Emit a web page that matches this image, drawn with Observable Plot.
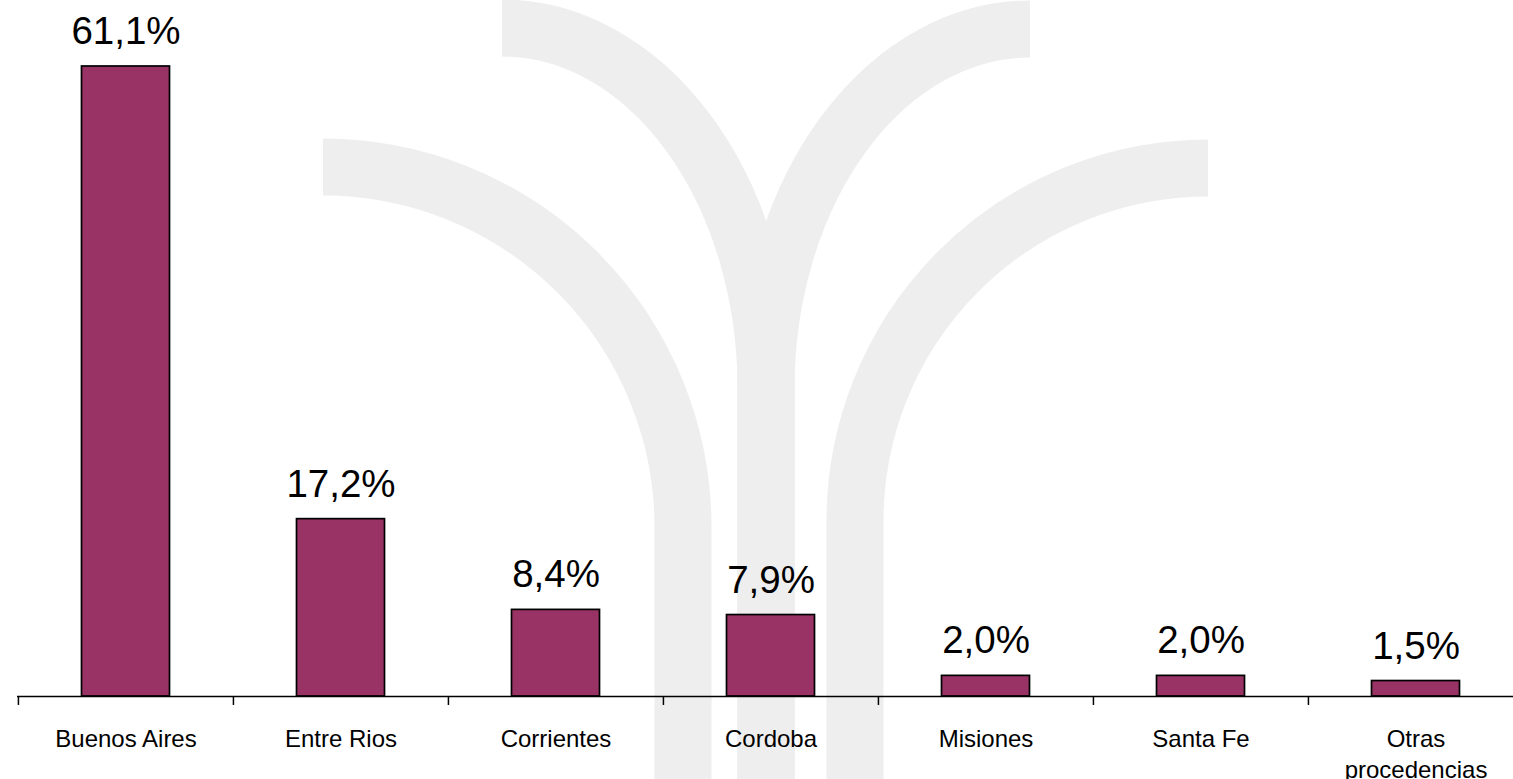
<!DOCTYPE html>
<html>
<head>
<meta charset="utf-8">
<script src="https://cdn.jsdelivr.net/npm/d3@7"></script>
<script src="https://cdn.jsdelivr.net/npm/@observablehq/plot@0.6"></script>
<style>
  html, body { margin: 0; padding: 0; background: #fff; overflow: hidden; }
  #wrap { position: relative; width: 1513px; height: 779px; overflow: hidden; }
  #bg { position: absolute; left: 0; top: 0; }
  #chart { position: absolute; left: 0; top: 0; }
</style>
</head>
<body>
<div id="wrap">
  <svg id="bg" width="1513" height="779"></svg>
  <div id="chart"></div>
</div>
<script>
// ---- data ----
const categories = ["Buenos Aires", "Entre Rios", "Corrientes", "Cordoba", "Misiones", "Santa Fe", "Otras procedencias"];
const values = [61.1, 17.2, 8.4, 7.9, 2.0, 2.0, 1.5];
const valueLabels = ["61,1%", "17,2%", "8,4%", "7,9%", "2,0%", "2,0%", "1,5%"];
const tickLabels = ["Buenos Aires", "Entre Rios", "Corrientes", "Cordoba", "Misiones", "Santa Fe", "Otras\nprocedencias"];

const data = categories.map((c, i) => ({cat: c, value: values[i], label: valueLabels[i], tick: tickLabels[i]}));

// ---- decorative watermark (light gray logo behind the chart) ----
const wm = [
  "M323,167 A360,360 0 0 1 683,527 L683,800",
  "M502,28 A264,360 0 0 1 766,388 L766,800",
  "M1030,29 A264,360 0 0 0 766,389 L766,800",
  "M1208,168 A353,353 0 0 0 855,521 L855,800",
  "M766,300 L766,800"
];
d3.select("#bg").selectAll("path").data(wm).join("path")
  .attr("d", d => d)
  .attr("fill", "none")
  .attr("stroke", "#eeeeee")
  .attr("stroke-width", 57);

// ---- chart ----
const font = "'Liberation Sans', Arial, Helvetica, sans-serif";
const step = (1523 - 17) / categories.length;

const chart = Plot.plot({
  width: 1530,
  height: 779,
  marginLeft: 17,
  marginRight: 7,
  marginTop: 0,
  marginBottom: 83,
  x: {domain: categories, padding: 0, axis: null},
  y: {domain: [0, 67.5], axis: null},
  style: {fontFamily: font, background: "transparent", maxWidth: "none", overflow: "visible", color: "#000"},
  marks: [
    Plot.barY(data, {
      x: "cat", y: "value",
      fill: "#993366", stroke: "#000", strokeWidth: 1.7,
      insetLeft: 63.5, insetRight: 63.5
    }),
    Plot.ruleY([0], {stroke: "#000", strokeWidth: 1.6}),
    Plot.ruleX(categories, {x: d => d, dx: -step / 2, y1: 0, y2: -0.87, stroke: "#000", strokeWidth: 1.5}),
    Plot.text(data, {
      x: "cat", y: "value", text: "label",
      dy: -22.5, lineAnchor: "bottom",
      fontSize: 38.5, fill: "#000"
    }),
    Plot.text(data, {
      x: "cat", y: d => 0, text: "tick",
      dy: 28.5, lineAnchor: "top", lineHeight: 1.28,
      fontSize: 24, fill: "#000"
    })
  ]
});
document.getElementById("chart").appendChild(chart);
</script>
</body>
</html>
